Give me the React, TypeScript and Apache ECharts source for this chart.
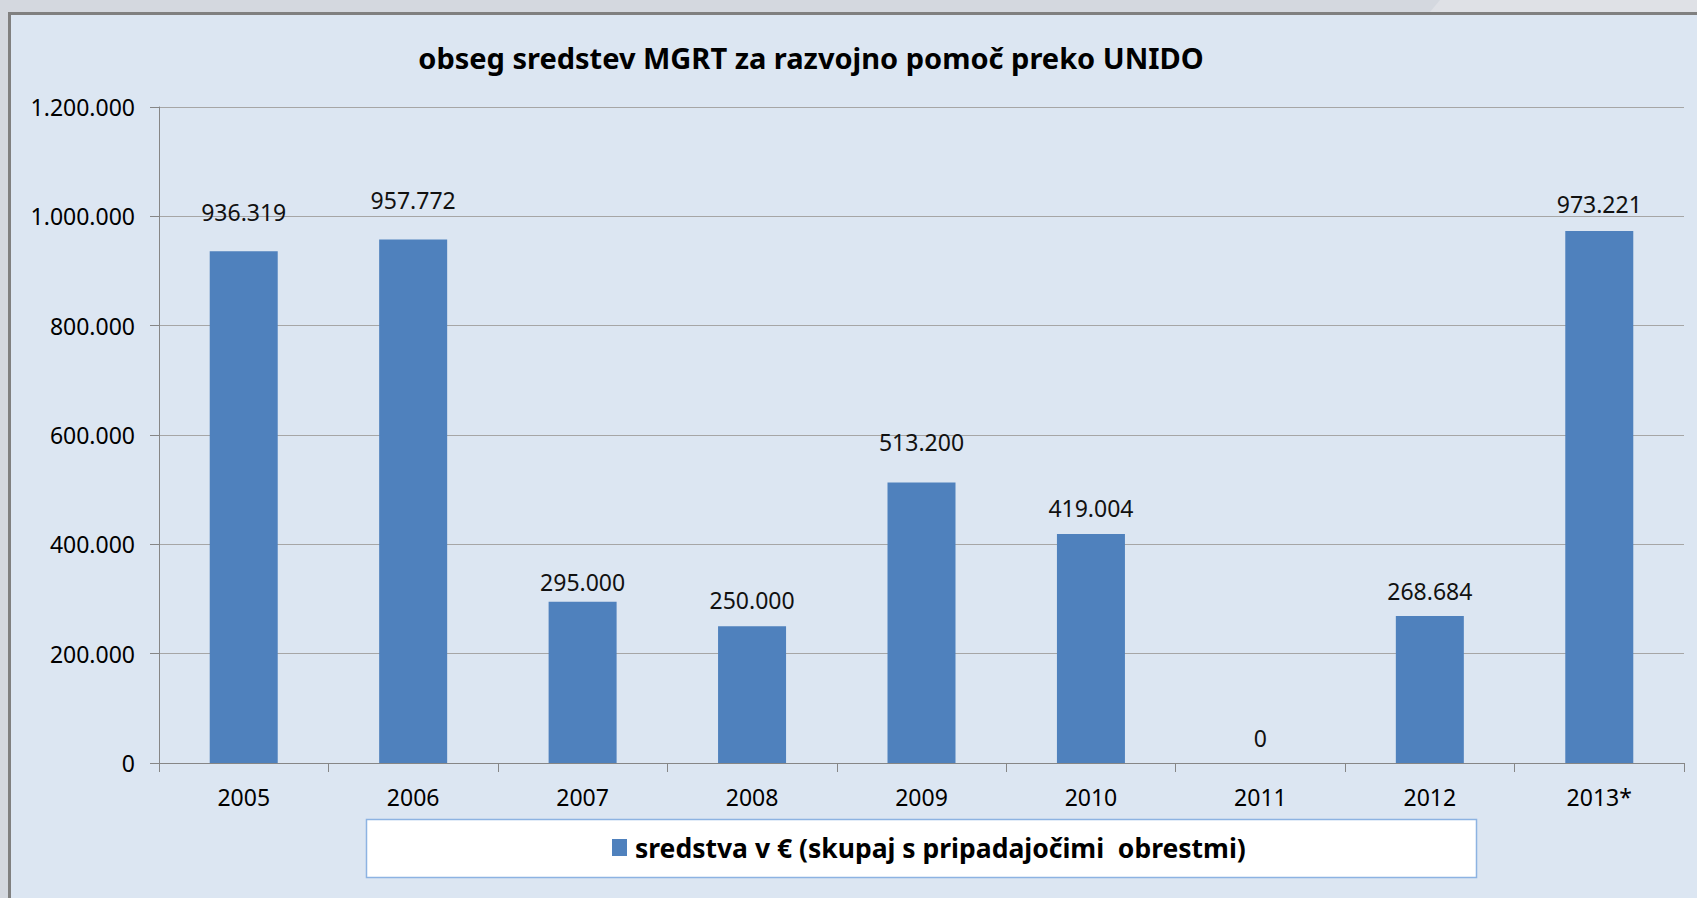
import React, { useEffect, useRef } from "react";
import * as echarts from "echarts";

const title = "obseg sredstev MGRT za razvojno pomoč preko UNIDO";
const seriesName = "sredstva v € (skupaj s pripadajočimi  obrestmi)";
const categories = ["2005", "2006", "2007", "2008", "2009", "2010", "2011", "2012", "2013*"];
const values = [936319, 957772, 295000, 250000, 513200, 419004, 0, 268684, 973221];
// per-label distance above bar (label placement as in the source)
const labelGaps = [28, 28, 8, 14.5, 28.5, 14, 14, 14, 15];
const yMin = 0;
const yMax = 1200000;
const yInterval = 200000;

const fmt = (v: number) => String(Math.round(v)).replace(/\B(?=(\d{3})+(?!\d))/g, ".");

const FONT = "'Noto Sans', 'DejaVu Sans', sans-serif";

export default function App() {
  const ref = useRef<HTMLDivElement>(null);
  useEffect(() => {
    if (!ref.current) return;
    const chart = echarts.init(ref.current, undefined, { renderer: "svg" });
    chart.setOption({
      animation: false,
      backgroundColor: "#dce6f2",
      textStyle: { fontFamily: FONT },
      title: {
        text: title,
        left: 811,
        textAlign: "center",
        top: 43,
        padding: 0,
        textStyle: { fontFamily: FONT, fontSize: 29, fontWeight: "bold", color: "#000" },
      },
      graphic: [
        { type: "rect", z: 1, silent: true, shape: { x: 0, y: 0, width: 1697, height: 12 }, style: { fill: "#d4d8df" } },
        { type: "rect", z: 1, silent: true, shape: { x: 0, y: 0, width: 8, height: 898 }, style: { fill: "#d4d8df" } },
        { type: "polygon", z: 1, silent: true, shape: { points: [[1440, 0], [1697, 0], [1697, 12], [1430, 12]] }, style: { fill: "#dfe1e6" } },
        { type: "line", z: 1, silent: true, shape: { x1: 8, y1: 13.5, x2: 1697, y2: 13.5 }, style: { stroke: "#808080", lineWidth: 3 } },
        { type: "line", z: 1, silent: true, shape: { x1: 9.5, y1: 12, x2: 9.5, y2: 898 }, style: { stroke: "#808080", lineWidth: 3 } },
        { type: "rect", z: 1, silent: true, shape: { x: 366.5, y: 819.5, width: 1110, height: 58 }, style: { fill: "#ffffff", stroke: "#8db3e2", lineWidth: 1.5 } },
      ],
      legend: {
        show: true,
        left: 612,
        top: 834,
        padding: 0,
        itemWidth: 15,
        itemHeight: 17,
        itemGap: 8,
        icon: "rect",
        z: 5,
        textStyle: { fontFamily: FONT, fontSize: 26.5, fontWeight: "bold", color: "#000", padding: [0, 0, 0, 3] },
        data: [seriesName],
      },
      grid: { left: 159, right: 13, top: 107, bottom: 135, containLabel: false },
      xAxis: {
        type: "category",
        data: categories,
        boundaryGap: true,
        axisLine: { show: true, lineStyle: { color: "#868686", width: 1 } },
        axisTick: { show: true, length: 9, alignWithLabel: false, lineStyle: { color: "#868686" } },
        axisLabel: { margin: 22, fontFamily: FONT, fontSize: 23, color: "#000", interval: 0 },
        splitLine: { show: false },
      },
      yAxis: {
        type: "value",
        min: yMin,
        max: yMax,
        interval: yInterval,
        axisLine: { show: true, lineStyle: { color: "#868686", width: 1 } },
        axisTick: { show: true, length: 9, lineStyle: { color: "#868686" } },
        axisLabel: { margin: 24, fontFamily: FONT, fontSize: 23, color: "#000", formatter: (v: number) => fmt(v) },
        splitLine: { show: true, lineStyle: { color: "#a6a6a6", width: 1 } },
      },
      series: [
        {
          name: seriesName,
          type: "bar",
          barWidth: 68,
          itemStyle: { color: "#4f81bd" },
          data: values.map((v, i) => ({
            value: v,
            label: { distance: labelGaps[i] },
          })),
          label: {
            show: true,
            position: "top",
            fontFamily: FONT,
            fontSize: 23,
            color: "#111",
            formatter: (p: any) => fmt(p.value),
          },
        },
      ],
    });
    return () => chart.dispose();
  }, []);
  return (
    <div
      ref={ref}
      style={{ position: "fixed", left: 0, top: 0, width: 1697, height: 898 }}
    />
  );
}
